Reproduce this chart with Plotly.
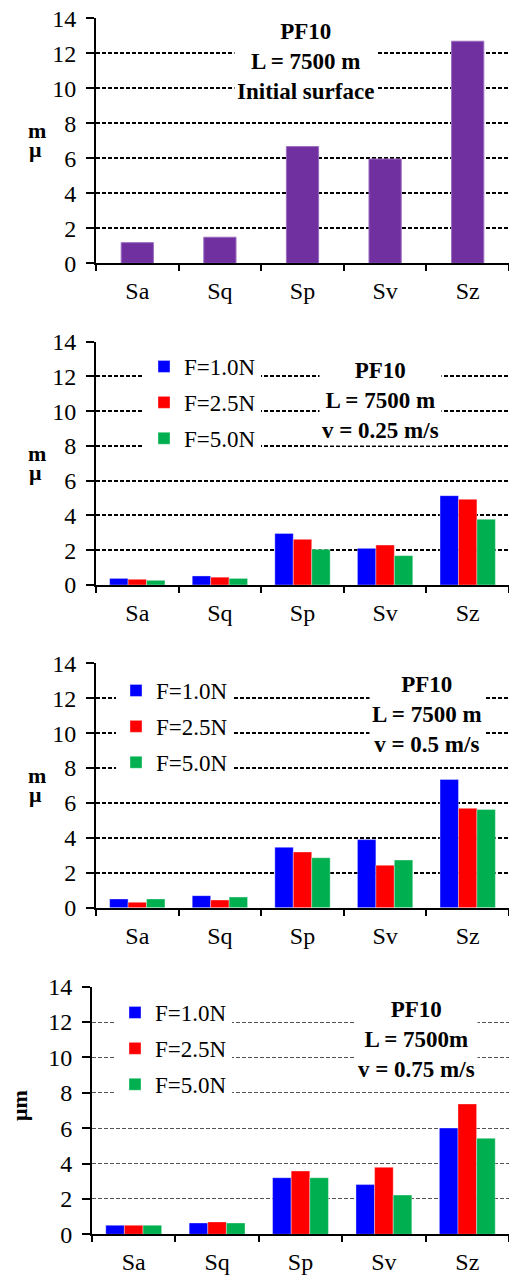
import plotly.graph_objects as go

categories = ["Sa", "Sq", "Sp", "Sv", "Sz"]

# Panel 1: initial surface
initial_surface = [1.18, 1.49, 6.67, 5.96, 12.69]

# Panel 2: v = 0.25 m/s
v025_F10 = [0.38, 0.52, 2.97, 2.11, 5.14]
v025_F25 = [0.33, 0.45, 2.63, 2.30, 4.93]
v025_F50 = [0.27, 0.38, 2.05, 1.69, 3.78]

# Panel 3: v = 0.5 m/s
v05_F10 = [0.50, 0.69, 3.46, 3.90, 7.35]
v05_F25 = [0.31, 0.44, 3.19, 2.43, 5.69]
v05_F50 = [0.50, 0.61, 2.86, 2.73, 5.62]

# Panel 4: v = 0.75 m/s
v075_F10 = [0.51, 0.64, 3.20, 2.81, 6.01]
v075_F25 = [0.51, 0.70, 3.58, 3.79, 7.37]
v075_F50 = [0.51, 0.64, 3.20, 2.22, 5.43]

series_names = ["F=1.0N", "F=2.5N", "F=5.0N"]
series_colors = ["#0000FF", "#FF0000", "#00B050"]
y_ticks = [0, 2, 4, 6, 8, 10, 12, 14]

titles = [
    "PF10<br>L = 7500 m<br>Initial surface",
    "PF10<br>L = 7500 m<br>v = 0.25 m/s",
    "PF10<br>L = 7500 m<br>v = 0.5 m/s",
    "PF10<br>L = 7500m<br>v = 0.75 m/s",
]

W, H = 509, 1278
SERIF = "Liberation Serif"

def py(px):
    return 1 - px / H

def pxx(px):
    return px / W

# panel plot areas in pixels (top of 14, bottom at 0)
panels = [
    dict(x0=96, top=18.3, bot=263.3),
    dict(x0=96, top=341.7, bot=585.0),
    dict(x0=96, top=663.3, bot=907.7),
    dict(x0=92, top=986.7, bot=1234.3),
]

fig = go.Figure()

# Panel 1 bars
fig.add_trace(go.Bar(
    x=categories, y=initial_surface, xaxis="x", yaxis="y",
    marker=dict(color="#7030A0", line=dict(color="#9a6cc0", width=1)),
    width=0.39, showlegend=False,
))

groups = [
    (v025_F10, v025_F25, v025_F50),
    (v05_F10, v05_F25, v05_F50),
    (v075_F10, v075_F25, v075_F50),
]
legend_ids = ["legend", "legend2", "legend3"]
for gi, grp in enumerate(groups):
    ax = gi + 2
    for si, vals in enumerate(grp):
        fig.add_trace(go.Bar(
            x=categories, y=vals, name=series_names[si],
            xaxis=f"x{ax}", yaxis=f"y{ax}",
            marker=dict(color=series_colors[si], line=dict(color="rgba(255,255,255,0.6)", width=0.6)),
            legend=legend_ids[gi], legendgroup=f"g{gi}_{si}",
            showlegend=True,
        ))

layout = dict(
    width=W, height=H, autosize=False,
    margin=dict(l=0, r=0, t=0, b=0, pad=0),
    paper_bgcolor="white", plot_bgcolor="white",
    barmode="group", bargap=0.33, bargroupgap=0,
    font=dict(family=SERIF, color="black", size=22),
    annotations=[], shapes=[],
)

for i, p in enumerate(panels):
    n = "" if i == 0 else str(i + 1)
    last = i == 3
    gridcolor = "#555555" if last else "black"
    gridwidth = 1 if last else 1.6
    layout[f"xaxis{n}"] = dict(
        domain=[pxx(p["x0"]), 1], anchor=f"y{n}", automargin=False,
        type="category", categoryorder="array", categoryarray=categories,
        showline=True, linecolor="black", linewidth=2,
        ticks="outside", tickson="boundaries", ticklen=6, tickwidth=2, tickcolor="black",
        tickfont=dict(family=SERIF, size=24), ticklabelstandoff=5,
        showgrid=False, fixedrange=True,
    )
    layout[f"yaxis{n}"] = dict(
        domain=[py(p["bot"]), py(p["top"])], anchor=f"x{n}", automargin=False,
        range=[0, 14], tickvals=y_ticks,
        showline=True, linecolor="black", linewidth=2,
        ticks="outside", ticklen=8, tickwidth=2, tickcolor="black",
        tickfont=dict(family=SERIF, size=24), ticklabelstandoff=5,
        showgrid=True, gridcolor=gridcolor, gridwidth=gridwidth, griddash="4px,2px",
        zeroline=False, fixedrange=True,
    )

# title annotations: (center x px, middle-line y px) absolute
title_pos = [(305, 61), (380, 400), (427, 714), (416, 1039)]
for i, (cx, cy) in enumerate(title_pos):
    layout["annotations"].append(dict(
        text=f"<b>{titles[i]}</b>", xref="paper", yref="paper",
        x=pxx(cx), y=py(cy), xanchor="center", yanchor="middle",
        showarrow=False, align="center", bgcolor="white", borderpad=2,
        font=dict(family=SERIF, size=23, color="black"),
    ))

# y-axis labels
for i in range(3):
    base = panels[i]["top"] - 18.3
    layout["annotations"].append(dict(
        text="<b>m</b>", xref="paper", yref="paper", x=pxx(37), y=py(base + 130),
        xanchor="center", yanchor="middle", showarrow=False,
        font=dict(family=SERIF, size=22, color="black"),
    ))
    layout["annotations"].append(dict(
        text="<b>μ</b>", xref="paper", yref="paper", x=pxx(35), y=py(base + 149),
        xanchor="center", yanchor="middle", showarrow=False,
        font=dict(family=SERIF, size=22, color="black"),
    ))
layout["annotations"].append(dict(
    text="<b>μm</b>", xref="paper", yref="paper", x=pxx(19), y=py(1106),
    xanchor="center", yanchor="middle", showarrow=False, textangle=-90,
    font=dict(family=SERIF, size=22, color="black"),
))

# legends (left x px, top y px)
legend_pos = [(144, 345), (116, 669), (115, 991)]
for li, (lx, ly) in enumerate(legend_pos):
    layout[legend_ids[li]] = dict(
        x=pxx(lx), y=py(ly), xanchor="left", yanchor="top",
        bgcolor="white", borderwidth=0,
        font=dict(family=SERIF, size=23, color="black"),
        traceorder="grouped", tracegroupgap=3,
        itemwidth=30,
    )

fig.update_layout(**layout)
fig.write_html("out.html")
